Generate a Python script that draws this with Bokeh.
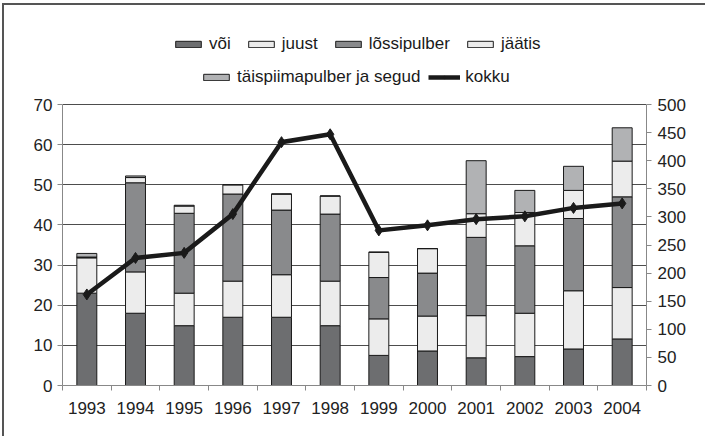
from bokeh.plotting import figure
from bokeh.models import (Range1d, LinearAxis, FixedTicker, Legend, LegendItem,
                          ColumnDataSource)
from bokeh.embed import file_html
from bokeh.resources import INLINE

years = ["1993", "1994", "1995", "1996", "1997", "1998",
         "1999", "2000", "2001", "2002", "2003", "2004"]
voi = [23.0, 18.0, 14.9, 17.0, 17.0, 14.9, 7.5, 8.6, 6.9, 7.2, 9.1, 11.6]
juust = [8.8, 10.3, 8.1, 9.0, 10.6, 11.1, 9.1, 8.7, 10.5, 10.8, 14.5, 12.8]
lossipulber = [0.2, 22.2, 19.9, 21.7, 16.1, 16.7, 10.3, 10.7, 19.5, 16.8, 18.0, 22.6]
jaatis = [0.0, 1.3, 1.8, 2.3, 4.0, 4.5, 6.3, 6.1, 5.9, 8.3, 7.0, 8.9]
taispiima = [0.9, 0.4, 0.2, 0.0, 0.0, 0.0, 0.0, 0.0, 13.2, 5.5, 6.0, 8.3]
kokku = [162, 227, 236, 305, 433, 447, 276, 285, 296, 301, 316, 324]

left_ticks = [0, 10, 20, 30, 40, 50, 60, 70]
right_ticks = [0, 50, 100, 150, 200, 250, 300, 350, 400, 450, 500]

series_names = ["või", "juust", "lõssipulber", "jäätis", "täispiimapulber ja segud"]
series_keys = ["voi", "juust", "lossipulber", "jaatis", "taispiima"]
series_colors = ["#6d6e70", "#ececec", "#898a8c", "#ececec", "#b1b2b4"]

FONT = "Liberation Sans"
FS = "17px"

# layout (pixels)
W, H = 703, 433
BORDER_L, BORDER_R, BORDER_T, BORDER_B = 58, 61, 11, 53
DATA_H = 281                          # height of the 0..70 data area
FRAME_H = H - BORDER_T - BORDER_B     # frame extends above the data area for the legend
scale_top = FRAME_H / DATA_H

xs = [i + 0.5 for i in range(len(years))]
source = ColumnDataSource(dict(x=xs, voi=voi, juust=juust, lossipulber=lossipulber,
                               jaatis=jaatis, taispiima=taispiima, kokku=kokku))

p = figure(width=W, height=H, output_backend="svg", toolbar_location=None,
           x_range=Range1d(0, len(years)),
           y_range=Range1d(left_ticks[0], left_ticks[-1] * scale_top),
           min_border_left=BORDER_L, min_border_right=BORDER_R,
           min_border_top=BORDER_T, min_border_bottom=BORDER_B)
p.extra_y_ranges = {"kokku": Range1d(right_ticks[0], right_ticks[-1] * scale_top)}
p.outline_line_color = None
p.background_fill_color = "white"
p.border_fill_color = "white"
p.styles = {"border-top": "2px solid #555555", "border-left": "2px solid #555555",
            "margin-left": "2px", "margin-top": "3px"}

bars = p.vbar_stack(series_keys, x="x", width=0.41, source=source,
                    fill_color=series_colors, line_color="#1a1a1a", line_width=1)

line = p.line("x", "kokku", source=source, y_range_name="kokku",
              line_width=4.5, line_color="#1a1a1a", line_join="miter")
pts = p.scatter("x", "kokku", source=source, y_range_name="kokku", marker="diamond",
                size=11, fill_color="#1a1a1a", line_color="#1a1a1a")

# x axis
xa = p.xaxis[0]
xa.ticker = FixedTicker(ticks=xs, minor_ticks=list(range(len(years) + 1)))
xa.major_label_overrides = {x: y for x, y in zip(xs, years)}
xa.major_tick_line_color = None
xa.major_tick_out = 0
xa.major_tick_in = 0
xa.minor_tick_in = 0
xa.minor_tick_out = 5
xa.minor_tick_line_color = "#888888"
xa.axis_line_color = "#888888"
xa.major_label_standoff = 11

# left axis
ya = p.yaxis[0]
ya.ticker = FixedTicker(ticks=left_ticks)
ya.bounds = (left_ticks[0], left_ticks[-1])
ya.minor_tick_line_color = None
ya.major_tick_in = 0
ya.major_tick_out = 5
ya.major_tick_line_color = "#888888"
ya.axis_line_color = "#888888"
ya.major_label_standoff = 5

# right axis
ra = LinearAxis(y_range_name="kokku", ticker=FixedTicker(ticks=right_ticks),
                bounds=(right_ticks[0], right_ticks[-1]))
ra.minor_tick_line_color = None
ra.major_tick_in = 0
ra.major_tick_out = 5
ra.major_tick_line_color = "#888888"
ra.axis_line_color = "#888888"
ra.major_label_standoff = 6
p.add_layout(ra, "right")

for ax in (xa, ya, ra):
    ax.major_label_text_font = FONT
    ax.major_label_text_font_size = FS
    ax.major_label_text_color = "#222222"

p.xgrid.grid_line_color = None
p.ygrid.ticker = FixedTicker(ticks=left_ticks)
p.ygrid.grid_line_color = "#4d4d4d"
p.ygrid.grid_line_width = 1

def make_legend(items, loc, spacing):
    return Legend(items=items, location=loc, orientation="horizontal",
                  border_line_color=None, background_fill_alpha=0, padding=2,
                  spacing=spacing, label_standoff=5, glyph_width=32, glyph_height=8,
                  label_text_font=FONT, label_text_font_size=FS,
                  label_text_color="#1a1a1a", margin=0)

items1 = [LegendItem(label=series_names[i], renderers=[bars[i]]) for i in range(4)]
items2 = [LegendItem(label=series_names[4], renderers=[bars[4]]),
          LegendItem(label="kokku", renderers=[line, pts])]
p.add_layout(make_legend(items1, (110, 331), 14))
p.add_layout(make_legend(items2, (138, 298), 8))

open("out.html", "w").write(file_html(p, INLINE))
